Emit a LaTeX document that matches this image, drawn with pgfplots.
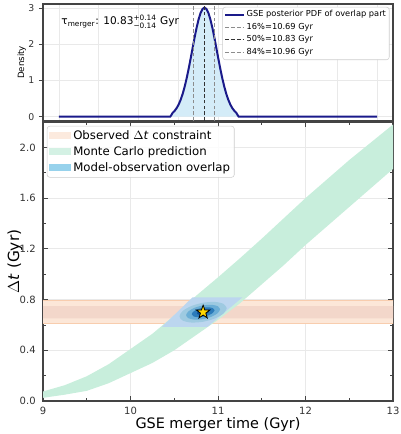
\documentclass[border=0pt]{standalone}
\usepackage{pgfplots}
\pgfplotsset{compat=1.18}
\usepackage{amsmath}
\usepackage{fontspec}
\setmainfont{DejaVu Sans}
\definecolor{mcgreen}{HTML}{C8EEDC}
\definecolor{lgreen}{HTML}{CDEFE0}
\definecolor{obsout}{HTML}{FCE7D8}
\definecolor{obsin}{HTML}{F3D7CA}
\definecolor{obsline}{HTML}{F8CDAE}
\definecolor{ovl}{HTML}{BCD6EF}
\definecolor{lgblue}{HTML}{86CBEA}
\definecolor{ca}{HTML}{9ECAE1}
\definecolor{cb}{HTML}{6BAED6}
\definecolor{cc}{HTML}{2B7BBA}
\definecolor{cd}{HTML}{0B4F96}
\definecolor{navy}{HTML}{1A1A8A}
\definecolor{pdffill}{HTML}{D4ECF8}
\definecolor{spine}{HTML}{444444}
\definecolor{gridc}{HTML}{E9E9E9}
\definecolor{gold}{HTML}{FFD700}
\pgfdeclareplotmark{fstar}{%
  \pgfpathmoveto{\pgfpointpolar{90}{\pgfplotmarksize}}%
  \pgfpathlineto{\pgfpointpolar{126}{0.40\pgfplotmarksize}}%
  \pgfpathlineto{\pgfpointpolar{162}{\pgfplotmarksize}}%
  \pgfpathlineto{\pgfpointpolar{198}{0.40\pgfplotmarksize}}%
  \pgfpathlineto{\pgfpointpolar{234}{\pgfplotmarksize}}%
  \pgfpathlineto{\pgfpointpolar{270}{0.40\pgfplotmarksize}}%
  \pgfpathlineto{\pgfpointpolar{306}{\pgfplotmarksize}}%
  \pgfpathlineto{\pgfpointpolar{342}{0.40\pgfplotmarksize}}%
  \pgfpathlineto{\pgfpointpolar{18}{\pgfplotmarksize}}%
  \pgfpathlineto{\pgfpointpolar{54}{0.40\pgfplotmarksize}}%
  \pgfpathclose\pgfusepathqfillstroke}
\begin{document}
\begin{tikzpicture}
\useasboundingbox (-32.25pt,-24.75pt) rectangle (267.75pt,300.75pt);
% ---------------- bottom panel ----------------
\begin{axis}[at={(0pt,0pt)}, anchor=south west, scale only axis,
  width=262.5pt, height=209.25pt,
  xmin=9, xmax=13, ymin=0, ymax=2.2,
  xtick={9,10,11,12,13}, minor x tick num=1,
  ytick={0,0.4,0.8,1.2,1.6,2.0}, minor y tick num=1,
  xtick pos=both, ytick pos=both, tick align=inside,
  major tick length=3.5pt, minor tick length=2pt,
  tick style={spine, line width=0.6pt},
  axis line style={spine, line width=0.9pt},
  grid=major, major grid style={gridc, line width=0.5pt},
  /pgf/number format/assume math mode=true,
  ticklabel style={font=\fontsize{7.5}{9}\selectfont, text=black!80},
  yticklabel style={/pgf/number format/fixed, /pgf/number format/fixed zerofill, /pgf/number format/precision=1, xshift=-2pt},
  xticklabel style={yshift=-1pt},
  xlabel={GSE merger time (Gyr)},
  ylabel={$\Delta$\textit{t} (Gyr)},
  xlabel style={font=\fontsize{10.8}{12}\selectfont, at={(axis description cs:0.5,0)}, anchor=center, yshift=-18pt},
  ylabel style={font=\fontsize{11.5}{13}\selectfont, at={(axis description cs:0,0.5)}, anchor=center, yshift=21pt},
  legend style={at={(axis description cs:0.011,0.986)}, anchor=north west,
    font=\fontsize{8.8}{10}\selectfont, draw=black!20, rounded corners=2pt,
    fill=white, fill opacity=0.85, text opacity=1, inner sep=1.5pt,
    row sep=0.6pt, nodes={inner sep=1.6pt}},
  legend cell align=left,
  legend image code/.code={\fill[#1, draw=none, sharp corners] (0pt,-2.8pt) rectangle (16.5pt,2.8pt);},
]
% observed constraint
\addplot[draw=none, fill=obsout, forget plot] coordinates {(8.5,0.61) (13.5,0.61) (13.5,0.79) (8.5,0.79) (8.5,0.61)};
\addplot[draw=none, fill=obsin, forget plot] coordinates {(8.5,0.652) (13.5,0.652) (13.5,0.748) (8.5,0.748) (8.5,0.652)};
\addplot[obsline, line width=0.5pt, forget plot] coordinates {(8.5,0.79) (13.5,0.79)};
\addplot[obsline, line width=0.5pt, forget plot] coordinates {(8.5,0.61) (13.5,0.61)};
% Monte Carlo band
\addplot[draw=none, fill=mcgreen, forget plot] coordinates {
 (9,0.075) (9.25,0.125) (9.5,0.195) (9.75,0.29) (10,0.41) (10.25,0.53) (10.5,0.675) (10.75,0.83)
 (11,0.975) (11.25,1.125) (11.5,1.28) (11.75,1.44) (12,1.60) (12.25,1.75) (12.5,1.90) (12.75,2.04) (13,2.18)
 (13,1.83) (12.75,1.68) (12.5,1.53) (12.25,1.38) (12,1.23) (11.75,1.07) (11.5,0.92) (11.25,0.77)
 (11,0.64) (10.75,0.52) (10.5,0.40) (10.25,0.30) (10,0.22) (9.75,0.14) (9.5,0.08) (9.25,0.05) (9,0.025) (9,0.075)
};
% overlap region
\addplot[draw=none, fill=ovl, forget plot] coordinates {(10.36,0.585) (10.88,0.585) (11.28,0.818) (10.71,0.818) (10.36,0.585)};
% contours
\addplot[draw=none, fill=ca, smooth, forget plot] coordinates {
 (11.100,0.7324) (11.064,0.7656) (10.965,0.7812) (10.830,0.7750) (10.695,0.7488) (10.596,0.7094)
 (10.560,0.6676) (10.596,0.6344) (10.695,0.6188) (10.830,0.6250) (10.965,0.6512) (11.064,0.6906) (11.100,0.7324)};
\addplot[draw=none, fill=cb, smooth, forget plot] coordinates {
 (11.024,0.7233) (10.998,0.7472) (10.927,0.7585) (10.830,0.7540) (10.733,0.7351) (10.662,0.7068)
 (10.636,0.6767) (10.662,0.6528) (10.733,0.6415) (10.830,0.6460) (10.927,0.6649) (10.998,0.6932) (11.024,0.7233)};
\addplot[draw=none, fill=cc, smooth, forget plot] coordinates {
 (10.960,0.7156) (10.942,0.7315) (10.895,0.7390) (10.830,0.7360) (10.765,0.7234) (10.718,0.7045)
 (10.700,0.6844) (10.718,0.6685) (10.765,0.6610) (10.830,0.6640) (10.895,0.6766) (10.942,0.6955) (10.960,0.7156)};
\addplot[draw=none, fill=cd, smooth, forget plot] coordinates {
 (10.900,0.7084) (10.891,0.7171) (10.865,0.7211) (10.830,0.7195) (10.795,0.7127) (10.769,0.7024)
 (10.760,0.6916) (10.769,0.6829) (10.795,0.6789) (10.830,0.6805) (10.865,0.6873) (10.891,0.6976) (10.900,0.7084)};
% best estimate star
\addplot[only marks, mark=fstar, mark size=5.3pt, mark options={fill=gold, draw=black, line width=0.6pt}, forget plot] coordinates {(10.83,0.70)};
% legend entries
\addlegendimage{fill=obsout}
\addlegendentry{Observed $\Delta$\textit{t} constraint}
\addlegendimage{fill=lgreen}
\addlegendentry{Monte Carlo prediction}
\addlegendimage{fill=lgblue}
\addlegendentry{Model-observation overlap}
\end{axis}
% ---------------- top panel ----------------
\begin{axis}[at={(0pt,210pt)}, anchor=south west, scale only axis,
  width=262.5pt, height=87.75pt,
  xmin=8.8, xmax=13.2, ymin=-0.12, ymax=3.12,
  xtick={9,9.5,...,13}, xticklabels={}, xtick style={draw=none},
  ytick={0,1,2,3}, ytick pos=left, tick align=outside,
  major tick length=3pt,
  tick style={spine, line width=0.6pt},
  axis line style={spine, line width=0.9pt},
  grid=major, major grid style={gridc, line width=0.5pt},
  /pgf/number format/assume math mode=true,
  ticklabel style={font=\fontsize{7}{8}\selectfont, text=black!80},
  ylabel={Density},
  ylabel style={font=\fontsize{6.5}{8}\selectfont, at={(axis description cs:0,0.5)}, anchor=center, yshift=16pt},
  legend style={at={(axis description cs:0.99,0.975)}, anchor=north east,
    font=\fontsize{6.2}{7}\selectfont, draw=black!20, rounded corners=2pt,
    fill=white, inner sep=1pt, row sep=0.3pt, nodes={inner sep=1.5pt}},
  legend cell align=left,
  legend image code/.code={\draw[#1, sharp corners] (0pt,0pt) -- (14pt,0pt);},
]
\addplot[draw=none, fill=pdffill, forget plot] coordinates {
 (10.41,0) (10.455,0.162) (10.48,0.236) (10.505,0.335) (10.53,0.464) (10.555,0.626) (10.58,0.822)
 (10.605,1.053) (10.63,1.314) (10.655,1.597) (10.68,1.891) (10.705,2.182) (10.73,2.453) (10.755,2.686)
 (10.78,2.867) (10.805,2.981) (10.83,3.02) (10.855,2.981) (10.88,2.867) (10.905,2.686) (10.93,2.453)
 (10.955,2.182) (10.98,1.891) (11.005,1.597) (11.03,1.314) (11.055,1.053) (11.08,0.822) (11.105,0.626)
 (11.13,0.464) (11.155,0.335) (11.18,0.236) (11.205,0.162) (11.25,0) (10.41,0)
};
\addplot[navy, line width=1.5pt] coordinates {
 (9,0) (10.40,0) (10.415,0.05) (10.43,0.108) (10.455,0.162) (10.48,0.236) (10.505,0.335) (10.53,0.464) (10.555,0.626) (10.58,0.822)
 (10.605,1.053) (10.63,1.314) (10.655,1.597) (10.68,1.891) (10.705,2.182) (10.73,2.453) (10.755,2.686)
 (10.78,2.867) (10.805,2.981) (10.83,3.02) (10.855,2.981) (10.88,2.867) (10.905,2.686) (10.93,2.453)
 (10.955,2.182) (10.98,1.891) (11.005,1.597) (11.03,1.314) (11.055,1.053) (11.08,0.822) (11.105,0.626)
 (11.13,0.464) (11.155,0.335) (11.18,0.236) (11.205,0.162) (11.23,0.108) (11.245,0.05) (11.26,0) (13,0)
};
\addlegendentry{GSE posterior PDF of overlap part}
\addplot[black!45, dash pattern=on 2.8pt off 1.6pt, line width=0.8pt] coordinates {(10.69,-0.12) (10.69,3.12)};
\addlegendentry{16\%=10.69 Gyr}
\addplot[black!80, dash pattern=on 2.8pt off 1.6pt, line width=0.9pt] coordinates {(10.83,-0.12) (10.83,3.12)};
\addlegendentry{50\%=10.83 Gyr}
\addplot[black!45, dash pattern=on 2.8pt off 1.6pt, line width=0.8pt] coordinates {(10.96,-0.12) (10.96,3.12)};
\addlegendentry{84\%=10.96 Gyr}
\node[anchor=west, font=\fontsize{7.9}{10}\selectfont, inner sep=0pt] at (axis description cs:0.052,0.85)
  {$\text{τ}_{\text{merger}}\text{: 10.83}^{\text{+0.14}}_{\text{−0.14}}\text{ Gyr}$};
\end{axis}
\end{tikzpicture}
\end{document}
